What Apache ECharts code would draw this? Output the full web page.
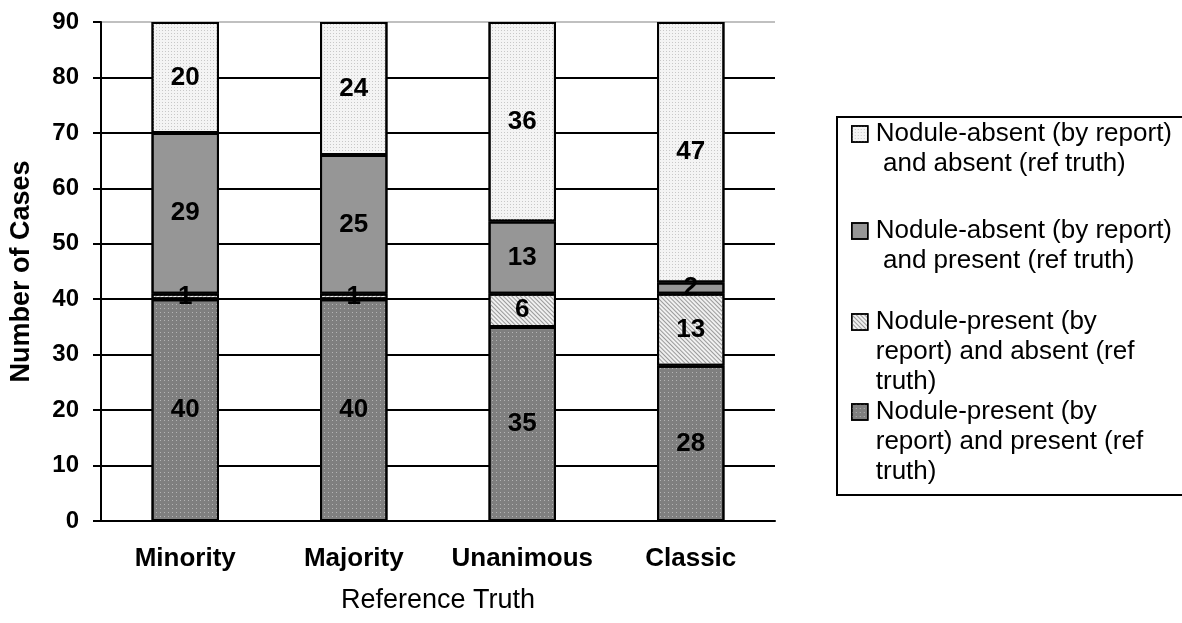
<!DOCTYPE html>
<html>
<head><meta charset="utf-8"></head>
<script type="text/javascript" src="https://cdn.jsdelivr.net/npm/echarts@6/dist/echarts.min.js"></script>
<body style="margin:0;background-color:#fff;">
    <div id="main" style="width:1182px;height:623px;"></div>
</body>
<script type="text/javascript">
var categories = ['Minority', 'Majority', 'Unanimous', 'Classic']
// stacked from the bottom up
var presentPresent = [40, 40, 35, 28]
var presentAbsent = [1, 1, 6, 13]
var absentPresent = [29, 25, 13, 2]
var absentAbsent = [20, 24, 36, 47]
var yTicks = [0, 10, 20, 30, 40, 50, 60, 70, 80, 90]

var names = [
    'Nodule-absent (by report) and absent (ref truth)',
    'Nodule-absent (by report) and present (ref truth)',
    'Nodule-present (by report) and absent (ref truth)',
    'Nodule-present (by report) and present (ref truth)'
]
var legendText = [
    'Nodule-absent (by report)\n and absent (ref truth)',
    'Nodule-absent (by report)\n and present (ref truth)',
    'Nodule-present (by\nreport) and absent (ref\ntruth)',
    'Nodule-present (by\nreport) and present (ref\ntruth)'
]
var font = 'Arial, "Liberation Sans", sans-serif'

// patterns
var styles = [
    {color: '#f4f4f4', decal: {symbol: 'rect', symbolSize: 1, dashArrayX: [1, 2], dashArrayY: [1, 2], color: '#c8c8c8'}},
    {color: '#969696', decal: {symbol: 'none'}},
    {color: '#f0f0f0', decal: {symbol: 'rect', symbolSize: 1, dashArrayX: [1, 0], dashArrayY: [1, 2], rotation: Math.PI / 4, color: '#9a9a9a'}},
    {color: '#7f7f7f', decal: {symbol: 'rect', symbolSize: 1, dashArrayX: [1, 3], dashArrayY: [1, 3], color: '#b4b4b4'}}
]
var values = [absentAbsent, absentPresent, presentAbsent, presentPresent]

// legend entries are placed one by one so the icon sits on the first text line
var iconCenters = [134, 231, 322, 412]
var legends = []
for (var i = 0; i < 4; i++) {
    var lines = legendText[i].split('\n').length
    var blank = ''
    for (var k = 1; k < lines; k++) blank += '\n'
    legends.push({
        data: [names[i]],
        left: 851,
        top: iconCenters[i] - lines * 2 * 30 / 2 + 15,
        padding: 0,
        icon: 'rect',
        itemWidth: 16,
        itemHeight: 16,
        selectedMode: false,
        itemStyle: {borderColor: '#000', borderWidth: 1.5},
        formatter: (function (t, b) { return function () { return b + t } })(legendText[i], blank),
        textStyle: {fontFamily: font, fontSize: 26, lineHeight: 30, color: '#000', padding: [0, 0, 0, 3]}
    })
}

var series = []
// draw order: bottom of the stack first
for (var j = 3; j >= 0; j--) {
    series.push({
        name: names[j],
        type: 'bar',
        stack: 'cases',
        barWidth: '40%',
        data: values[j],
        itemStyle: {color: styles[j].color, decal: styles[j].decal, borderColor: '#000', borderWidth: 2},
        label: {
            show: true,
            position: 'inside',
            color: '#000',
            fontFamily: font,
            fontWeight: 'bold',
            fontSize: 26
        }
    })
}

var gridColors = yTicks.map(function (v, i) { return i === yTicks.length - 1 ? '#c0c0c0' : '#000' })

var myChart = echarts.init(document.getElementById('main'))
myChart.setOption({
    animation: false,
    grid: {left: 100, right: 407, top: 22, bottom: 102},
    legend: legends,
    graphic: [{
        type: 'rect',
        shape: {x: 837, y: 117, width: 360, height: 378},
        style: {fill: 'none', stroke: '#000', lineWidth: 2}
    }],
    xAxis: {
        type: 'category',
        data: categories,
        name: 'Reference Truth',
        nameLocation: 'middle',
        nameGap: 66,
        nameTextStyle: {fontFamily: font, fontSize: 27, color: '#000'},
        axisLine: {lineStyle: {color: '#000', width: 2}},
        axisTick: {length: 9, lineStyle: {color: '#000', width: 2}},
        axisLabel: {interval: 0, margin: 25, fontFamily: font, fontWeight: 'bold', fontSize: 26, color: '#000'}
    },
    yAxis: {
        type: 'value',
        min: 0,
        max: 90,
        interval: 10,
        name: 'Number of Cases',
        nameLocation: 'middle',
        nameGap: 66,
        nameTextStyle: {fontFamily: font, fontWeight: 'bold', fontSize: 27, color: '#000'},
        axisLine: {show: true, lineStyle: {color: '#000', width: 2}},
        axisTick: {show: true, length: 8, lineStyle: {color: '#000', width: 2}},
        axisLabel: {margin: 22, fontFamily: font, fontWeight: 'bold', fontSize: 24, color: '#000'},
        splitLine: {show: true, lineStyle: {color: gridColors, width: 2}}
    },
    series: series
})
</script>
</html>
